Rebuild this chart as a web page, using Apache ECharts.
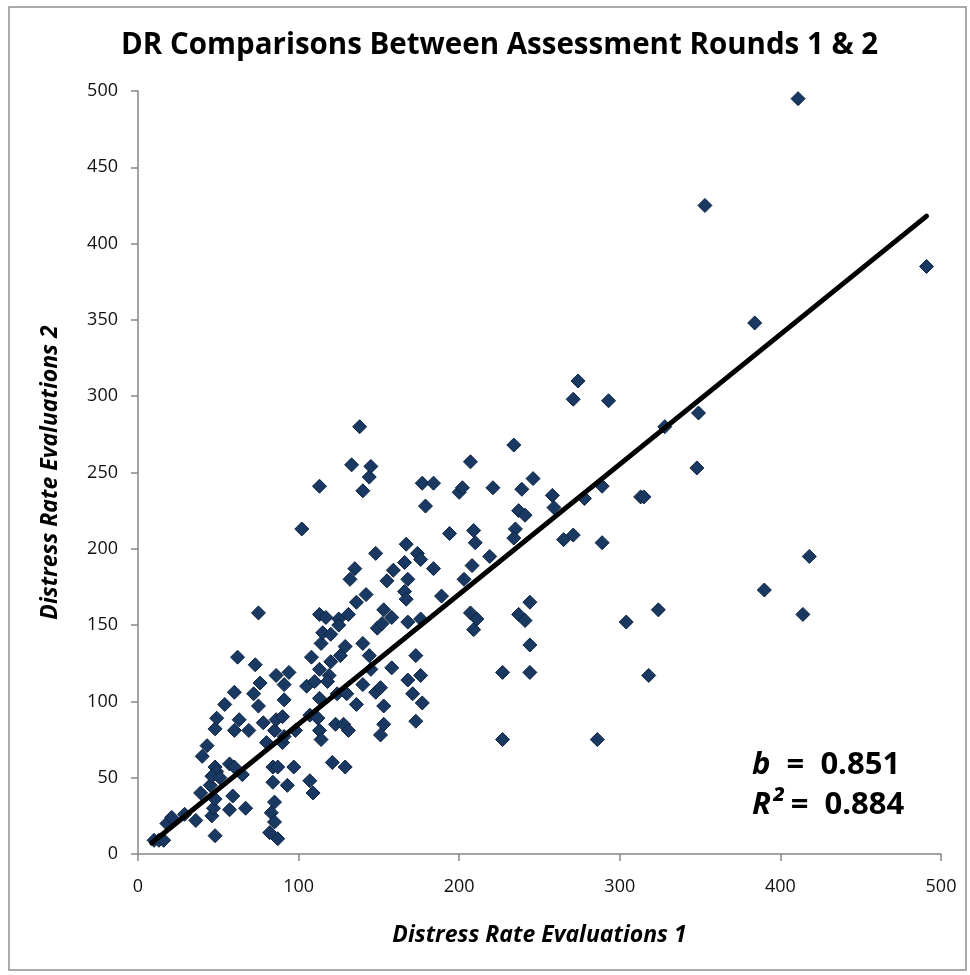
<!DOCTYPE html>
<html>
<head>
<meta charset="utf-8">
<script src="https://cdn.jsdelivr.net/npm/echarts@6/dist/echarts.min.js"></script>
<style>
html,body{margin:0;padding:0;background:#fff;}
#chart{width:970px;height:975px;}
</style>
</head>
<body>
<div id="chart"></div>
<script>
// Distress rate, assessment round 1 (x)
var round1 = [10,13,16,18,21,29,36,39,40,43,45,46,47,48,48,48,48,49,49,46,51,54,57,57,59,60,60,60,
  62,63,65,67,69,72,73,75,75,76,78,80,82,83,84,84,85,85,85,86,86,87,87,90,90,91,91,91,93,94,97,98,
  102,105,107,107,108,109,110,112,113,113,113,113,113,114,114,117,115,119,118,120,120,121,123,124,125,125,126,128,129,129,131,131,132,133,135,136,136,138,140,140,140,142,144,144,145,145,148,148,149,
  151,152,153,153,153,155,158,158,159,166,166,167,167,168,168,168,171,173,173,174,176,176,176,177,177,179,184,184,189,194,
  200,202,203,207,207,208,209,209,210,211,219,221,227,227,234,235,234,237,239,241,237,241,244,244,244,246,
  258,259,265,271,271,274,278,286,289,289,293,304,313,315,318,324,328,349,348,353,384,390,411,414,418,491,130,151];
// Distress rate, assessment round 2 (y)
var round2 = [9,9,9,20,24,26,22,40,64,71,45,25,30,12,36,57,82,89,54,51,50,98,59,29,38,57,81,106,
  129,88,52,30,81,105,124,158,97,112,86,73,14,27,57,47,34,21,81,117,88,57,10,90,73,111,101,77,45,119,57,81,
  213,110,91,48,129,40,113,89,241,157,121,102,81,138,75,155,145,117,113,126,144,60,85,105,154,150,130,85,136,57,81,157,180,255,187,165,98,280,238,138,111,170,247,130,254,121,197,106,148,
  78,151,160,97,85,179,155,122,186,191,172,167,203,180,152,114,105,130,87,197,154,193,117,243,99,228,243,187,169,210,
  237,240,180,257,158,189,212,147,204,154,195,240,119,75,268,213,207,225,239,222,157,153,137,165,119,246,
  235,227,206,209,298,310,233,75,204,241,297,152,234,234,117,160,280,289,253,425,348,173,495,157,195,385,105,109];
// Linear trend line end points (b = 0.851)
var trendX = [8.5, 491];
var trendY = [7.2, 418];
var xTicks = {min: 0, max: 500, step: 100};
var yTicks = {min: 0, max: 500, step: 50};
var titleText = 'DR Comparisons Between Assessment Rounds 1 & 2';
var xName = 'Distress Rate Evaluations 1';
var yName = 'Distress Rate Evaluations 2';
var statB = '0.851';
var statR2 = '0.884';

var pts = round1.map(function(v, i){ return [v, round2[i]]; });
var trend = trendX.map(function(v, i){ return [v, trendY[i]]; });

var FONT = "'Open Sans', 'Noto Sans', sans-serif";
var chart = echarts.init(document.getElementById('chart'), null, {renderer: 'canvas'});
chart.setOption({
  backgroundColor: '#fff',
  animation: false,
  title: {
    text: titleText, left: 116, top: 26,
    textStyle: {fontFamily: FONT, fontSize: 29.5, fontWeight: 'bold', color: '#000'}
  },
  grid: {left: 138, right: 29, top: 91, bottom: 121},
  xAxis: {
    type: 'value', min: xTicks.min, max: xTicks.max, interval: xTicks.step,
    name: xName, nameLocation: 'middle', nameGap: 70,
    nameTextStyle: {fontFamily: FONT, fontSize: 23, fontWeight: 'bold', fontStyle: 'italic', color: '#000'},
    axisLine: {show: true, lineStyle: {color: '#868686', width: 1.5}},
    axisTick: {show: true, inside: false, length: 7, lineStyle: {color: '#868686', width: 1.5}},
    axisLabel: {margin: 24, fontFamily: FONT, fontSize: 18, color: '#111'},
    splitLine: {show: false}
  },
  yAxis: {
    type: 'value', min: yTicks.min, max: yTicks.max, interval: yTicks.step,
    name: yName, nameLocation: 'middle', nameGap: 76, nameRotate: 90,
    nameTextStyle: {fontFamily: FONT, fontSize: 23, fontWeight: 'bold', fontStyle: 'italic', color: '#000'},
    axisLine: {show: true, lineStyle: {color: '#868686', width: 1.5}},
    axisTick: {show: true, inside: false, length: 7, lineStyle: {color: '#868686', width: 1.5}},
    axisLabel: {margin: 20, fontFamily: FONT, fontSize: 18, color: '#111'},
    splitLine: {show: false}
  },
  graphic: [
    {type: 'rect', silent: true, z: -10,
     shape: {x: 9, y: 7, width: 957, height: 963},
     style: {fill: 'none', stroke: '#8f8f8f', lineWidth: 1.5}},
    {type: 'text', left: 752, top: 750, z: 100,
     style: {
       text: '{i|b}{n|  =  ' + statB + '}',
       rich: {
         i: {fontFamily: FONT, fontSize: 31, fontWeight: 'bold', fontStyle: 'italic', fill: '#000'},
         n: {fontFamily: FONT, fontSize: 31, fontWeight: 'bold', fill: '#000'}
       }
     }},
    {type: 'text', left: 752, top: 790, z: 100,
     style: {
       text: '{i|R\u00B2}{n| =  ' + statR2 + '}',
       rich: {
         i: {fontFamily: FONT, fontSize: 31, fontWeight: 'bold', fontStyle: 'italic', fill: '#000'},
         n: {fontFamily: FONT, fontSize: 31, fontWeight: 'bold', fill: '#000'}
       }
     }}
  ],
  series: [
    {
      type: 'scatter', data: pts, symbol: 'diamond', symbolSize: 14, z: 2,
      itemStyle: {color: '#1a3962', borderColor: '#0d2340', borderWidth: 1, opacity: 1}
    },
    {
      type: 'line', data: trend, symbol: 'none', z: 3, silent: true,
      lineStyle: {color: '#000', width: 5, cap: 'round'}
    }
  ]
});
</script>
</body>
</html>
